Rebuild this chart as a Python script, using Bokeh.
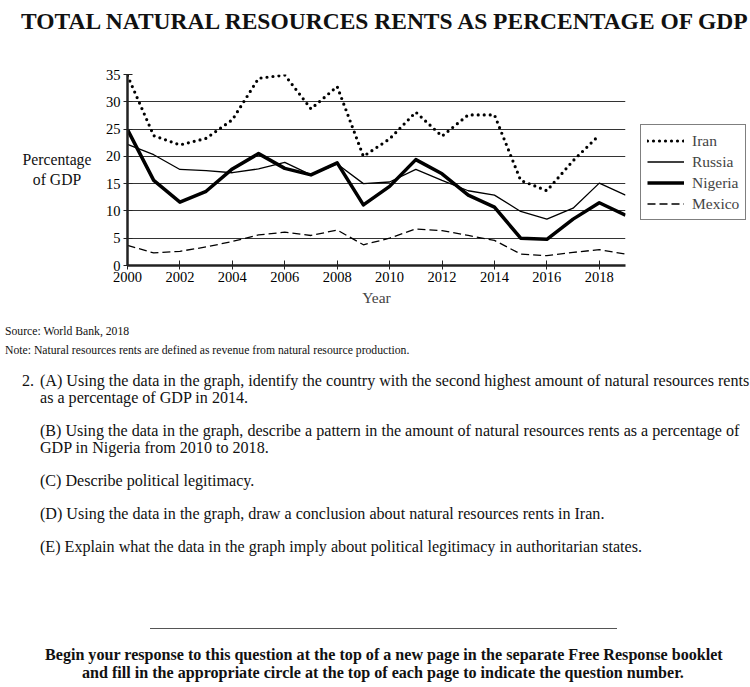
from bokeh.plotting import figure
from bokeh.models import Range1d, Legend, LegendItem, FixedTicker, Div
from bokeh.layouts import column, row
from bokeh.embed import file_html
from bokeh.resources import INLINE

years_full = list(range(2000, 2020))
years_iran = list(range(2000, 2019))

iran = [34.8, 23.8, 22.1, 23.3, 26.7, 34.3, 34.9, 28.7, 32.8, 20.0,
        23.2, 28.1, 23.7, 27.6, 27.6, 15.6, 13.7, 19.2, 23.9]
russia = [22.2, 20.3, 17.6, 17.4, 17.0, 17.7, 18.9, 16.6, 18.6, 15.0,
          15.3, 17.6, 15.6, 13.7, 12.9, 9.9, 8.5, 10.5, 15.1, 12.9]
nigeria = [24.9, 15.6, 11.6, 13.6, 17.7, 20.5, 17.8, 16.6, 18.8, 11.1,
           14.5, 19.4, 16.8, 12.9, 10.7, 5.0, 4.8, 8.5, 11.5, 9.2]
mexico = [3.7, 2.3, 2.6, 3.4, 4.4, 5.6, 6.1, 5.5, 6.5, 3.8,
          5.0, 6.7, 6.4, 5.5, 4.6, 2.1, 1.8, 2.4, 2.9, 2.1]

x_ticks = [2000, 2002, 2004, 2006, 2008, 2010, 2012, 2014, 2016, 2018]
y_ticks = [0, 5, 10, 15, 20, 25, 30, 35]

SERIF = "Liberation Serif"

p = figure(frame_width=498, frame_height=191,
           x_range=Range1d(2000, 2019), y_range=Range1d(0, 35),
           output_backend="svg", toolbar_location=None,
           min_border_left=24, min_border_right=124,
           min_border_top=24, min_border_bottom=47)
p.outline_line_color = None
p.xgrid.grid_line_color = None
p.ygrid.grid_line_color = "#333333"
p.ygrid.grid_line_width = 1
p.ygrid.ticker = FixedTicker(ticks=y_ticks)

p.xaxis.ticker = FixedTicker(ticks=x_ticks)
p.yaxis.ticker = FixedTicker(ticks=y_ticks)
for ax in (p.xaxis, p.yaxis):
    ax.axis_line_width = 2.5
    ax.axis_line_color = "#222222"
    ax.major_tick_line_color = "#222222"
    ax.major_tick_in = 5
    ax.major_tick_out = 4
    ax.minor_tick_line_color = None
    ax.major_label_text_font = SERIF
    ax.major_label_text_font_size = "14.5px"
    ax.major_label_text_color = "black"
p.xaxis.major_label_standoff = 2
p.yaxis.major_label_standoff = 3
p.xaxis.axis_label = "Year"
p.xaxis.axis_label_text_font = SERIF
p.xaxis.axis_label_text_font_style = "normal"
p.xaxis.axis_label_text_font_size = "15.5px"
p.xaxis.axis_label_standoff = 4

r_iran = p.line(years_iran, iran, line_color="black", line_width=3.2,
                line_dash="0 6", line_cap="round")
r_russia = p.line(years_full, russia, line_color="black", line_width=1.3)
r_nigeria = p.line(years_full, nigeria, line_color="black", line_width=3.5,
                   line_join="round")
r_mexico = p.line(years_full, mexico, line_color="black", line_width=1.3,
                  line_dash="8 4")

legend = Legend(items=[
    LegendItem(label="Iran", renderers=[r_iran]),
    LegendItem(label="Russia", renderers=[r_russia]),
    LegendItem(label="Nigeria", renderers=[r_nigeria]),
    LegendItem(label="Mexico", renderers=[r_mexico]),
], location=(15, 45))
legend.label_text_font = SERIF
legend.label_text_font_size = "15.5px"
legend.label_height = 19
legend.glyph_height = 19
legend.glyph_width = 37
legend.spacing = 2
legend.padding = 6
legend.margin = 0
legend.label_standoff = 8
legend.border_line_color = "black"
legend.border_line_width = 1
legend.background_fill_alpha = 1
p.add_layout(legend, "right")

title = Div(width=750, height=50, margin=0, text=(
    "<div style='font-family:\"Liberation Serif\";font-weight:bold;font-size:23.5px;"
    "line-height:26px;padding-top:8px;padding-left:21px;white-space:nowrap;color:#111'>"
    "TOTAL NATURAL RESOURCES RENTS AS PERCENTAGE OF GDP</div>"))

ylab = Div(width=102, height=262, margin=0, text=(
    "<div style='font-family:\"Liberation Serif\";font-size:15.7px;line-height:20px;"
    "text-align:center;width:94px;margin-left:10px;padding-top:100px;color:#111'>"
    "Percentage<br>of GDP</div>"))

source = Div(width=750, height=48, margin=0, text=(
    "<div style='font-family:\"Liberation Serif\";font-size:11.7px;line-height:19px;"
    "padding-top:10px;padding-left:5px;white-space:nowrap;color:#111'>"
    "Source: World Bank, 2018<br>"
    "Note: Natural resources rents are defined as revenue from natural resource production.</div>"))

q_style = "margin:0 0 16px 0;"
questions = Div(width=750, height=240, margin=0, text=(
    "<div style='font-family:\"Liberation Serif\";font-size:16.1px;line-height:17px;"
    "padding-top:12px;position:relative;padding-left:40px;white-space:nowrap;color:#111'>"
    "<span style='position:absolute;left:22px;top:12px'>2.</span>"
    f"<div style='{q_style}'>(A) Using the data in the graph, identify the country with the second highest amount of natural resources rents<br>as a percentage of GDP in 2014.</div>"
    f"<div style='{q_style}'>(B) Using the data in the graph, describe a pattern in the amount of natural resources rents as a percentage of<br>GDP in Nigeria from 2010 to 2018.</div>"
    f"<div style='{q_style}'>(C) Describe political legitimacy.</div>"
    f"<div style='{q_style}'>(D) Using the data in the graph, draw a conclusion about natural resources rents in Iran.</div>"
    f"<div style='{q_style}'>(E) Explain what the data in the graph imply about political legitimacy in authoritarian states.</div>"
    "</div>"))

footer = Div(width=750, height=87, margin=0, text=(
    "<div style='font-family:\"Liberation Serif\";color:#111'>"
    "<div style='height:29px;width:467px;margin-left:150px;border-bottom:1px solid #555'></div>"
    "<div style='margin-top:17px;font-weight:bold;font-size:16.1px;line-height:18px;"
    "white-space:nowrap'>"
    "<div style='padding-left:45px'>Begin your response to this question at the top of a new page in the separate Free Response booklet</div>"
    "<div style='padding-left:82px'>and fill in the appropriate circle at the top of each page to indicate the question number.</div>"
    "</div></div>"))

layout = column(title, row(ylab, p, spacing=0), source, questions, footer, spacing=0)

open("out.html", "w").write(file_html(layout, INLINE))
